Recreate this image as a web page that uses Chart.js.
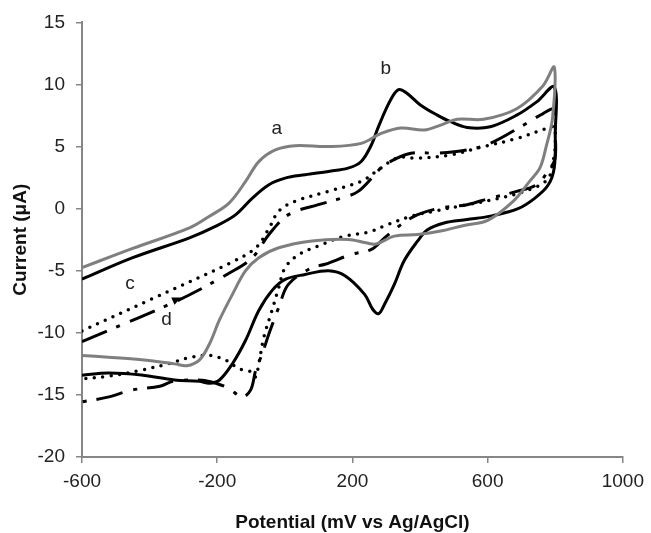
<!DOCTYPE html>
<html>
<head>
<meta charset="utf-8">
<script src="https://cdn.jsdelivr.net/npm/chart.js@4.4.1/dist/chart.umd.min.js"></script>
<style>
  html, body { margin: 0; padding: 0; background: #fff; }
</style>
</head>
<body>
<canvas id="cv" width="651" height="533"></canvas>
<script>
// curve a (grey): forward sweep then reverse sweep
const potA = [-600, -450, -282, -223, -165, -116, -77, -28, 31, 129, 226, 285, 344, 412, 461, 510, 588, 686, 764, 797,
              792, 774, 755, 724, 676, 600, 530, 461, 393, 324, 270, 240, 188, 80, -18, -77, -116, -155, -194, -223, -253, -290, -326, -424, -522, -600];
const curA = [-4.75, -3.2, -1.55, -0.61, 0.45, 2.19, 3.79, 4.73, 5.07, 5.0, 5.26, 6.06, 6.5, 6.33, 6.73, 7.2, 7.2, 8.05, 9.9, 11.4,
              7.3, 5.1, 3.3, 2.2, 0.6, -0.95, -1.35, -1.8, -2.08, -2.21, -2.85, -2.75, -2.48, -2.6, -3.15, -3.95, -5.0, -6.9, -9.0, -10.9, -12.2, -12.65, -12.5, -12.17, -11.96, -11.82];

// curve b (black)
const potB = [-600, -450, -282, -204, -145, -96, -47, 1, 60, 129, 187, 226, 256, 275, 300, 324, 339, 363, 402, 451, 490, 539, 608, 686, 745, 797,
              800, 797, 779, 740, 690, 608, 539, 471, 422, 393, 353, 324, 295, 278, 260, 236, 178, 129, 60, 1, -38, -77, -116, -155, -194, -223, -253, -326, -424, -522, -600];
const curB = [-5.68, -3.95, -2.35, -1.41, -0.48, 0.85, 1.93, 2.46, 2.73, 3.0, 3.26, 3.8, 5.13, 6.46, 8.06, 9.26, 9.6, 9.26, 8.33, 7.53, 7.0, 6.54, 6.6, 7.53, 8.6, 9.8,
              6.0, 3.3, 1.9, 0.85, 0.0, -0.6, -0.88, -1.15, -1.7, -2.6, -4.2, -6.1, -7.7, -8.45, -8.1, -6.9, -5.4, -5.0, -5.3, -5.7, -6.6, -8.2, -10.6, -12.49, -13.82, -14.06, -13.9, -13.8, -13.4, -13.24, -13.42];

// curve c (dotted)
const potC = [-600, -400, -160, -86, -47, -18, 31, 129, 226, 275, 334, 393, 490, 588, 686, 774, 797,
              800, 799, 793, 780, 735, 637, 539, 442, 373, 305, 246, 178, 99, 41, 1, -18, -38, -62, -77, -86, -96, -135, -175, -223, -277, -346, -424, -522, -600];
const curC = [-9.85, -7.35, -4.35, -3.15, -1.6, -0.2, 0.6, 1.4, 2.2, 3.1, 4.1, 4.06, 4.33, 5.0, 5.65, 6.46, 6.6,
              6.2, 4.6, 3.8, 2.46, 1.65, 0.85, 0.32, -0.21, -0.61, -1.28, -1.9, -2.21, -3.0, -3.7, -4.75, -6.35, -8.2, -10.35, -12.5, -13.56, -13.16, -12.9, -12.2, -11.82, -11.96, -12.5, -13.0, -13.5, -13.7];

// curve d (dash-dot)
const potD = [-600, -317, -165, -96, -47, 11, 99, 168, 217, 266, 295, 373, 451, 539, 608, 706, 764, 797,
              800, 799, 778, 745, 686, 608, 539, 461, 393, 344, 295, 256, 197, 119, 80, 11, -18, -47, -67, -86, -101, -126, -165, -200, -245, -330, -370, -450, -527, -600];
const curD = [-10.7, -7.4, -5.2, -3.95, -2.08, -0.48, 0.32, 0.85, 1.39, 2.73, 3.53, 4.46, 4.46, 4.73, 5.26, 6.73, 7.66, 8.0,
              6.0, 4.0, 3.0, 1.93, 1.39, 0.85, 0.32, 0.05, -0.48, -1.28, -2.35, -3.28, -3.68, -4.48, -4.75, -6.08, -7.95, -10.08, -11.7, -13.0, -14.6, -15.16, -14.49, -14.1, -13.82, -13.9, -14.3, -14.6, -15.2, -15.56];

// curve letters and the scan-direction arrow, in data units
const labelText = ['a', 'b', 'c', 'd'];
const labelPot = [-24, 299, -458, -350];
const labelCur = [6.43, 11.24, -6.06, -8.94];
const arrowPot = [-400, -307];
const arrowCur = [-8.3, -7.15];

function pts(xs, ys) {
  return xs.map((x, i) => ({x: x, y: ys[i]}));
}

const labelsPlugin = {
  id: 'curveLabels',
  afterDatasetsDraw(chart) {
    const ctx = chart.ctx;
    const sx = chart.scales.x, sy = chart.scales.y;
    ctx.save();
    ctx.fillStyle = '#222';
    ctx.font = '19px "Liberation Sans", Arial, sans-serif';
    ctx.textAlign = 'center';
    ctx.textBaseline = 'middle';
    labelText.forEach((t, i) => {
      ctx.fillText(t, sx.getPixelForValue(labelPot[i]), sy.getPixelForValue(labelCur[i]));
    });
    // arrow head
    const x0 = sx.getPixelForValue(arrowPot[0]), y0 = sy.getPixelForValue(arrowCur[0]);
    const x1 = sx.getPixelForValue(arrowPot[1]), y1 = sy.getPixelForValue(arrowCur[1]);
    const ang = Math.atan2(y1 - y0, x1 - x0);
    ctx.translate(x1, y1);
    ctx.rotate(ang);
    ctx.fillStyle = '#000';
    ctx.beginPath();
    ctx.moveTo(0, 0);
    ctx.lineTo(-9, -4);
    ctx.lineTo(-9, 4);
    ctx.closePath();
    ctx.fill();
    ctx.restore();
  }
};

const axisGrey = '#868686';
const fontFam = '"Liberation Sans", Arial, sans-serif';

new Chart(document.getElementById('cv'), {
  type: 'scatter',
  data: {
    datasets: [
      {
        label: 'a',
        data: pts(potA, curA),
        borderColor: '#7f7f7f',
        borderWidth: 3,
      },
      {
        label: 'b',
        data: pts(potB, curB),
        borderColor: '#000',
        borderWidth: 3,
      },
      {
        label: 'c',
        data: pts(potC, curC),
        borderColor: '#000',
        borderWidth: 3.5,
        borderDash: [0, 8.5],
        borderCapStyle: 'round',
      },
      {
        label: 'd',
        data: pts(potD, curD),
        borderColor: '#000',
        borderWidth: 3,
        borderDash: [27, 10, 4, 11],
      },
    ].map(d => Object.assign({showLine: true, pointRadius: 0, tension: 0.35, fill: false}, d))
  },
  options: {
    responsive: false,
    animation: false,
    layout: {padding: {top: 20, right: 24, left: 0, bottom: 0}},
    plugins: {
      legend: {display: false},
      tooltip: {enabled: false}
    },
    scales: {
      x: {
        type: 'linear',
        min: -600,
        max: 1000,
        afterFit(s) { s.height = 76; },
        ticks: {
          stepSize: 400,
          color: '#222',
          padding: 7,
          callback: v => String(v),
          font: {family: fontFam, size: 19}
        },
        grid: {drawOnChartArea: false, drawTicks: true, tickLength: 6, color: axisGrey, lineWidth: 1.5},
        border: {color: axisGrey, width: 2},
        title: {
          display: true,
          text: 'Potential (mV vs Ag/AgCl)',
          color: '#111',
          padding: {top: 0, bottom: 0.5},
          font: {family: fontFam, size: 19, weight: 'bold', lineHeight: 1}
        }
      },
      y: {
        type: 'linear',
        min: -20,
        max: 15,
        afterFit(s) { s.width = 82; },
        ticks: {
          stepSize: 5,
          color: '#222',
          padding: 11,
          font: {family: fontFam, size: 19}
        },
        grid: {drawOnChartArea: false, drawTicks: true, tickLength: 6, color: axisGrey, lineWidth: 1.5},
        border: {color: axisGrey, width: 2},
        title: {
          display: true,
          text: 'Current (μA)',
          color: '#111',
          padding: {top: 11.5, bottom: 0},
          font: {family: fontFam, size: 19, weight: 'bold', lineHeight: 1}
        }
      }
    }
  },
  plugins: [labelsPlugin]
});
</script>
</body>
</html>
